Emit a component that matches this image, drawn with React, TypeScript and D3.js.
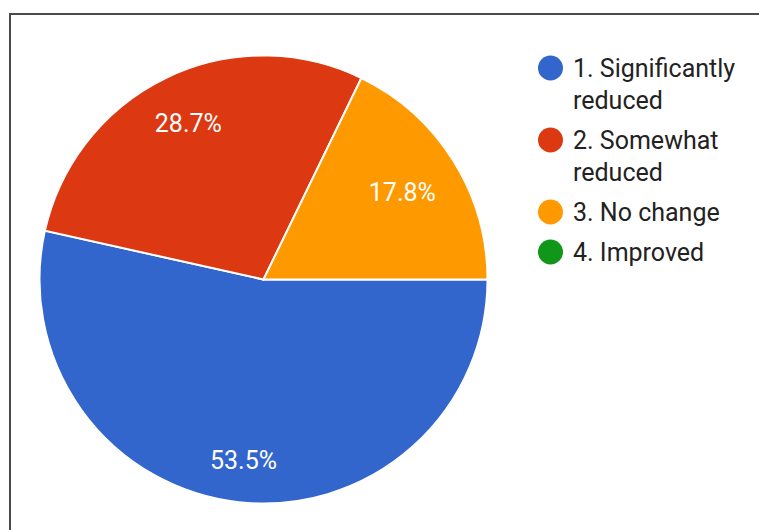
import React from "react";
import * as d3 from "d3";

// Survey responses and their shares (percent)
const categories = [
  "1. Significantly reduced",
  "2. Somewhat reduced",
  "3. No change",
  "4. Improved",
];
const legendLines = [
  ["1. Significantly", "reduced"],
  ["2. Somewhat", "reduced"],
  ["3. No change"],
  ["4. Improved"],
];
const shares = [53.5, 28.7, 17.8, 0];
const colors = ["#3366cc", "#dc3912", "#ff9900", "#109618"];

const W = 759;
const H = 530;
const cx = 263.5;
const cy = 279.5;
const R = 224;
const FONT = "Roboto, Arial, sans-serif";
const LABEL_SIZE = 25;
const LEGEND_SIZE = 25;

export default function App() {
  const pie = d3
    .pie<number>()
    .sort(null)
    .value((d) => d)
    .startAngle(Math.PI / 2)
    .endAngle(Math.PI / 2 + 2 * Math.PI);
  const arcs = pie(shares);
  const arcGen = d3.arc<d3.PieArcDatum<number>>().innerRadius(0).outerRadius(R);

  // place each percent label so its box stays a fixed distance inside the rim
  const labelOuter = R * 0.868;
  const labelPos = (a: d3.PieArcDatum<number>, text: string) => {
    const mid = (a.startAngle + a.endAngle) / 2;
    const ux = Math.sin(mid);
    const uy = -Math.cos(mid);
    const hw = (text.length - 1) * LABEL_SIZE * 0.53 / 2 + 4;
    const hh = LABEL_SIZE * 0.36;
    const d = labelOuter - (hw * Math.abs(ux) + hh * Math.abs(uy));
    return [ux * d, uy * d];
  };

  // legend layout
  const legendX = 550.5;
  const textX = 573;
  const lineH = 32;
  const itemGap = 8;
  let y = 77;
  const legendItems = legendLines.map((lines, i) => {
    const item = { lines, base: y, color: colors[i], key: categories[i] };
    y += lines.length * lineH + itemGap;
    return item;
  });

  return (
    <svg
      width={W}
      height={H}
      style={{ position: "absolute", left: 0, top: 0, background: "#fff" }}
    >
      <rect x={0} y={0} width={W} height={H} fill="#fff" />
      <rect x={10} y={14} width={W + 20} height={H + 20} fill="none" stroke="#4a4a4a" strokeWidth={2} />
      <g transform={`translate(${cx},${cy})`}>
        {arcs.map((a, i) =>
          a.value > 0 ? (
            <path key={i} d={arcGen(a) || ""} fill={colors[i]} stroke="#fff" strokeWidth={2} />
          ) : null
        )}
        {arcs.map((a, i) => {
          if (a.value <= 0) return null;
          const text = `${a.value.toFixed(1)}%`;
          const [lx, ly] = labelPos(a, text);
          return (
            <text
              key={"l" + i}
              x={lx}
              y={ly}
              dy="0.35em"
              textAnchor="middle"
              fill="#fff"
              fontFamily={FONT}
              fontSize={LABEL_SIZE}
            >
              {text}
            </text>
          );
        })}
      </g>
      {legendItems.map((it) => (
        <g key={it.key}>
          <circle cx={legendX} cy={it.base - 9} r={12.5} fill={it.color} />
          {it.lines.map((ln, j) => (
            <text
              key={j}
              x={textX}
              y={it.base + j * lineH}
              fill="#222"
              fontFamily={FONT}
              fontSize={LEGEND_SIZE}
            >
              {ln}
            </text>
          ))}
        </g>
      ))}
    </svg>
  );
}
